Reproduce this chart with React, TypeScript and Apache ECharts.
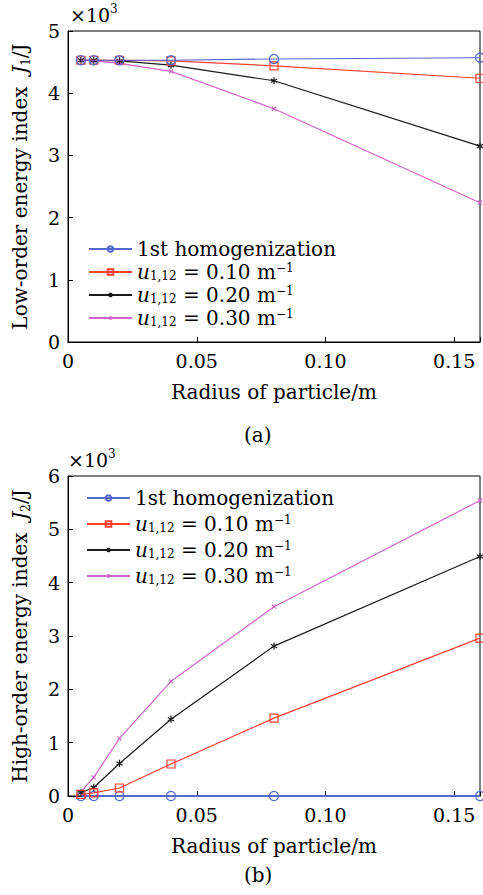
import React, { useEffect, useRef } from 'react';
import * as echarts from 'echarts';

const radius = [0.005, 0.01, 0.02, 0.04, 0.08, 0.16];
const xTickValues = [0, 0.05, 0.1, 0.15];
const seriesNames = ['1st homogenization', 'u1,12 = 0.10 m-1', 'u1,12 = 0.20 m-1', 'u1,12 = 0.30 m-1'];
const uValues = ['0.10', '0.20', '0.30'];

const lowHom = [4.53, 4.53, 4.53, 4.53, 4.55, 4.57];
const low010 = [4.53, 4.53, 4.53, 4.52, 4.44, 4.24];
const low020 = [4.53, 4.53, 4.52, 4.45, 4.2, 3.15];
const low030 = [4.53, 4.52, 4.48, 4.35, 3.75, 2.24];

const highHom = [0, 0, 0, 0, 0, 0];
const high010 = [0.03, 0.06, 0.15, 0.6, 1.46, 2.96];
const high020 = [0.06, 0.16, 0.61, 1.44, 2.81, 4.49];
const high030 = [0.08, 0.35, 1.08, 2.15, 3.55, 5.54];

const FONT = 'DejaVu Serif';
const COLORS = ['#5567cc', '#ff3f30', '#1a1a1a', '#d064c8'];
const SYMBOLS = [
  'circle',
  'rect',
  'path://M-1 -1M4 0L4 8M0.54 2L7.46 6M0.54 6L7.46 2M9 9',
  'path://M-3 -3M0 0L6 6M6 0L0 6M9 9',
];
const SYMBOL_SIZES = [9, 8, 9, 8];

const richBase = (size: number, lh: number) => ({
  t: { fontFamily: FONT, fontSize: size, lineHeight: lh, color: '#000' },
  i: { fontFamily: FONT, fontSize: size, lineHeight: lh, color: '#000', fontStyle: 'italic' },
  sub: { fontFamily: FONT, fontSize: Math.round(size * 0.62), lineHeight: Math.round(lh * 0.5), color: '#000', verticalAlign: 'bottom' },
  sup: { fontFamily: FONT, fontSize: Math.round(size * 0.62), lineHeight: Math.round(lh * 0.5), color: '#000', verticalAlign: 'top' },
});

const legendFormatter = (name: string) => {
  const idx = seriesNames.indexOf(name);
  if (idx <= 0) return '{t|' + name + '}';
  return '{i|u}{sub|1,12}{t| = ' + uValues[idx - 1] + ' m}{sup|−1}';
};

const xLabelFormatter = (v: number) => {
  const ok = xTickValues.some((t) => Math.abs(t - v) < 1e-9);
  if (!ok) return '';
  return v === 0 ? '0' : v.toFixed(2);
};

export default function App() {
  const ref = useRef<HTMLDivElement>(null);
  useEffect(() => {
    document.body.style.margin = '0';
    const chart = echarts.init(ref.current!, null, { renderer: 'svg', width: 483, height: 895 });

    const makeX = (gridIndex: number) => ({
      type: 'value',
      gridIndex,
      min: 0,
      max: 0.16,
      interval: 0.05,
      axisLine: { show: true, lineStyle: { color: '#000', width: 1 } },
      axisTick: { show: true, inside: true, length: 5, lineStyle: { color: '#000' } },
      axisLabel: { formatter: xLabelFormatter, fontFamily: FONT, fontSize: 19, color: '#000', margin: 9 },
      splitLine: { show: false },
      name: 'Radius of particle/m',
      nameLocation: 'middle',
      nameGap: 40,
      nameTextStyle: { fontFamily: FONT, fontSize: 20, color: '#000' },
    });

    const makeY = (gridIndex: number, max: number, name: string) => ({
      type: 'value',
      gridIndex,
      min: 0,
      max,
      interval: 1,
      axisLine: { show: true, lineStyle: { color: '#000', width: 1 } },
      axisTick: { show: true, inside: true, length: 5, lineStyle: { color: '#000' } },
      axisLabel: { fontFamily: FONT, fontSize: 19, color: '#000', margin: 8 },
      splitLine: { show: false },
      name,
      nameLocation: 'middle',
      nameRotate: 90,
      nameGap: 36,
      nameTextStyle: { fontFamily: FONT, fontSize: 20, color: '#000', rich: richBase(20, 24) },
    });

    const makeSeries = (gi: number, sets: number[][]) =>
      sets.map((vals, k) => ({
        type: 'line',
        name: seriesNames[k],
        xAxisIndex: gi,
        yAxisIndex: gi,
        data: radius.map((x, i) => [x, vals[i]]),
        symbol: SYMBOLS[k],
        symbolSize: SYMBOL_SIZES[k],
        showAllSymbol: true,
        clip: false,
        lineStyle: { color: COLORS[k], width: gi === 1 && k === 0 ? 2.2 : 1.2 },
        itemStyle: { color: 'rgba(0,0,0,0)', borderColor: COLORS[k], borderWidth: 1.2 },
        emphasis: { disabled: true },
        z: gi === 1 && k === 0 ? 1 : 3 + (3 - k),
      }));

    const legendCommon = {
      orient: 'vertical',
      itemWidth: 43,
      itemHeight: 7,
      data: seriesNames,
      formatter: legendFormatter,
      textStyle: { fontFamily: FONT, fontSize: 20, color: '#000', rich: richBase(20, 20) },
      selectedMode: false,
    };

    chart.setOption({
      animation: false,
      backgroundColor: '#fff',
      grid: [
        { left: 68, top: 31, width: 416, height: 311, show: true, borderColor: '#000', borderWidth: 1 },
        { left: 68, top: 476, width: 416, height: 320, show: true, borderColor: '#000', borderWidth: 1 },
      ],
      xAxis: [makeX(0), makeX(1)],
      yAxis: [
        makeY(0, 5, 'Low-order energy index  {i|J}{sub|1}{t|/J}'),
        makeY(1, 6, 'High-order energy index  {i|J}{sub|2}{t|/J}'),
      ],
      legend: [
        { ...legendCommon, left: 83, top: 234, itemGap: 3 },
        { ...legendCommon, left: 81, top: 483, itemGap: 6 },
      ],
      series: [
        ...makeSeries(0, [lowHom, low010, low020, low030]),
        ...makeSeries(1, [highHom, high010, high020, high030]),
      ],
      graphic: [
        {
          type: 'text',
          left: 70,
          top: 3,
          style: { text: '{t|×10}{sup|3}', rich: richBase(19, 24) },
        },
        {
          type: 'text',
          left: 68,
          top: 448,
          style: { text: '{t|×10}{sup|3}', rich: richBase(19, 24) },
        },
        {
          type: 'text',
          left: 244,
          top: 425,
          style: { text: '(a)', fontFamily: FONT, fontSize: 20, fill: '#000' },
        },
        {
          type: 'text',
          left: 244,
          top: 865,
          style: { text: '(b)', fontFamily: FONT, fontSize: 20, fill: '#000' },
        },
      ],
    });
    return () => chart.dispose();
  }, []);
  return (
    <div>
      <div aria-hidden="true" style={{ position: 'absolute', left: 0, top: 0, visibility: 'hidden', fontFamily: 'DejaVu Serif', whiteSpace: 'pre' }}>
        {'\u00a0'}
        <span style={{ fontStyle: 'italic' }}>{'\u00a0'}</span>
      </div>
      <div ref={ref} style={{ position: 'absolute', left: 0, top: 0, width: 483, height: 895 }} />
    </div>
  );
}
